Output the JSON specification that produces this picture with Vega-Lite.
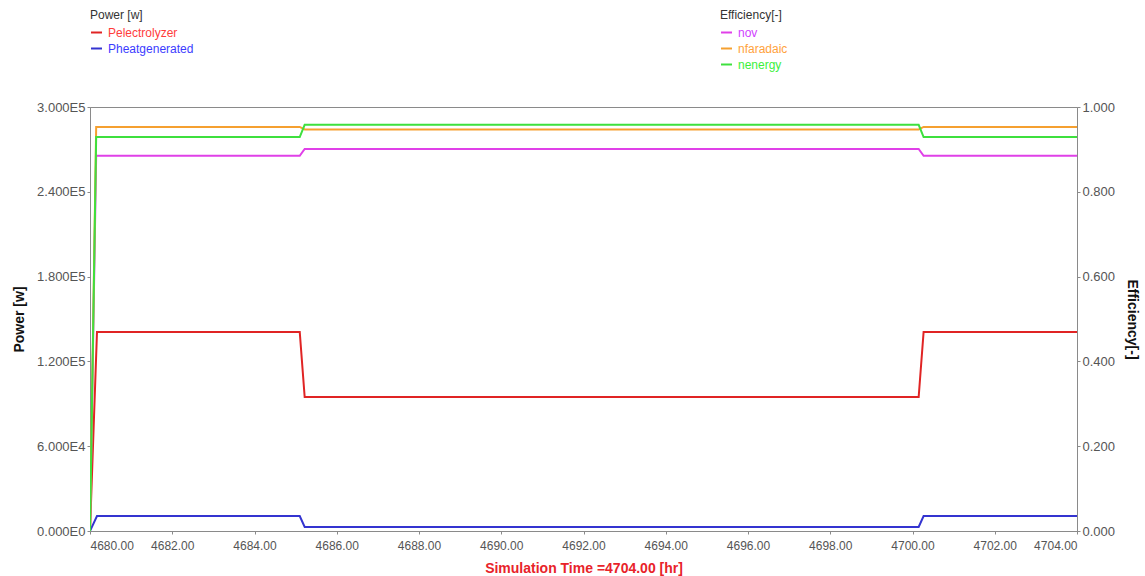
{
  "$schema": "https://vega.github.io/schema/vega-lite/v6.json",
  "width": 987,
  "height": 424,
  "autosize": "none",
  "padding": {"left": 90, "top": 107, "right": 68, "bottom": 45},
  "background": "white",
  "config": {
    "font": "Liberation Sans",
    "view": {"stroke": "#8a8a8a", "strokeWidth": 1},
    "axis": {
      "grid": false,
      "domainColor": "#8a8a8a",
      "tickColor": "#8a8a8a",
      "tickSize": 3,
      "labelFontSize": 12,
      "labelColor": "#555555",
      "labelFont": "Liberation Sans",
      "titleFont": "Liberation Sans",
      "titleFontSize": 14,
      "titleFontWeight": "bold",
      "titleColor": "#111111"
    },
    "legend": {
      "orient": "none",
      "titleFontSize": 12,
      "titleFontWeight": "normal",
      "titleColor": "#333333",
      "titleFont": "Liberation Sans",
      "labelFont": "Liberation Sans",
      "labelFontSize": 12,
      "symbolType": "stroke",
      "symbolStrokeWidth": 2,
      "symbolSize": 120,
      "rowPadding": 3,
      "titlePadding": 4,
      "labelOffset": 5
    }
  },
  "layer": [
    {
      "data": {
        "values": [
          {"time": 4680.0, "series": "Pelectrolyzer", "value": 0},
          {"time": 4680.17, "series": "Pelectrolyzer", "value": 140800},
          {"time": 4685.1, "series": "Pelectrolyzer", "value": 140800},
          {"time": 4685.22, "series": "Pelectrolyzer", "value": 94800},
          {"time": 4700.15, "series": "Pelectrolyzer", "value": 94800},
          {"time": 4700.27, "series": "Pelectrolyzer", "value": 140800},
          {"time": 4704.0, "series": "Pelectrolyzer", "value": 140800},
          {"time": 4680.0, "series": "Pheatgenerated", "value": 0},
          {"time": 4680.17, "series": "Pheatgenerated", "value": 10600},
          {"time": 4685.1, "series": "Pheatgenerated", "value": 10600},
          {"time": 4685.22, "series": "Pheatgenerated", "value": 2900},
          {"time": 4700.15, "series": "Pheatgenerated", "value": 2900},
          {"time": 4700.27, "series": "Pheatgenerated", "value": 10600},
          {"time": 4704.0, "series": "Pheatgenerated", "value": 10600}
        ]
      },
      "mark": {"type": "line", "strokeWidth": 2, "clip": true},
      "encoding": {
        "x": {
          "field": "time",
          "type": "quantitative",
          "scale": {"domain": [4680, 4704], "nice": false, "zero": false},
          "axis": {
            "values": [4680, 4682, 4684, 4686, 4688, 4690, 4692, 4694, 4696, 4698, 4700, 4702, 4704],
            "format": ".2f",
            "title": "Simulation Time =4704.00 [hr]",
            "titleColor": "#e8232a",
            "titlePadding": 10,
            "labelPadding": 6
          }
        },
        "y": {
          "field": "value",
          "type": "quantitative",
          "scale": {"domain": [0, 300000], "nice": false},
          "axis": {
            "orient": "left",
            "values": [0, 60000, 120000, 180000, 240000, 300000],
            "labelExpr": "replace(format(datum.value, '.3e'), 'e+', 'E')",
            "labelFontSize": 13,
            "title": "Power [w]",
            "titlePadding": 10
          }
        },
        "color": {
          "field": "series",
          "type": "nominal",
          "scale": {"domain": ["Pelectrolyzer", "Pheatgenerated"], "range": ["#e02424", "#3434d0"]},
          "legend": {
            "title": "Power [w]",
            "legendX": 0,
            "legendY": -97,
            "encode": {
              "labels": {"update": {"fill": {"signal": "datum.value === 'Pelectrolyzer' ? '#ff3c3c' : '#3c3cff'"}}}
            }
          }
        }
      }
    },
    {
      "data": {
        "values": [
          {"time": 4680.0, "series": "nov", "value": 0},
          {"time": 4680.15, "series": "nov", "value": 0.885},
          {"time": 4685.1, "series": "nov", "value": 0.885},
          {"time": 4685.22, "series": "nov", "value": 0.901},
          {"time": 4700.15, "series": "nov", "value": 0.901},
          {"time": 4700.27, "series": "nov", "value": 0.885},
          {"time": 4704.0, "series": "nov", "value": 0.885},
          {"time": 4680.0, "series": "nfaradaic", "value": 0},
          {"time": 4680.15, "series": "nfaradaic", "value": 0.953},
          {"time": 4685.1, "series": "nfaradaic", "value": 0.953},
          {"time": 4685.22, "series": "nfaradaic", "value": 0.947},
          {"time": 4700.15, "series": "nfaradaic", "value": 0.947},
          {"time": 4700.27, "series": "nfaradaic", "value": 0.953},
          {"time": 4704.0, "series": "nfaradaic", "value": 0.953},
          {"time": 4680.0, "series": "nenergy", "value": 0},
          {"time": 4680.15, "series": "nenergy", "value": 0.929},
          {"time": 4685.1, "series": "nenergy", "value": 0.929},
          {"time": 4685.22, "series": "nenergy", "value": 0.958},
          {"time": 4700.15, "series": "nenergy", "value": 0.958},
          {"time": 4700.27, "series": "nenergy", "value": 0.929},
          {"time": 4704.0, "series": "nenergy", "value": 0.929}
        ]
      },
      "mark": {"type": "line", "strokeWidth": 2, "clip": true},
      "encoding": {
        "x": {"field": "time", "type": "quantitative"},
        "y": {
          "field": "value",
          "type": "quantitative",
          "scale": {"domain": [0, 1], "nice": false},
          "axis": {
            "orient": "right",
            "values": [0, 0.2, 0.4, 0.6, 0.8, 1.0],
            "format": ".3f",
            "labelFontSize": 13,
            "title": "Efficiency[-]",
            "titlePadding": 10
          }
        },
        "color": {
          "field": "series",
          "type": "nominal",
          "scale": {"domain": ["nov", "nfaradaic", "nenergy"], "range": ["#e040e8", "#f5a030", "#3ee03e"]},
          "legend": {
            "title": "Efficiency[-]",
            "legendX": 630,
            "legendY": -97,
            "encode": {
              "labels": {"update": {"fill": {"signal": "datum.value === 'nov' ? '#d040ff' : datum.value === 'nfaradaic' ? '#ffa23c' : '#3cf03c'"}}}
            }
          }
        }
      }
    }
  ],
  "resolve": {"scale": {"y": "independent", "color": "independent"}}
}
